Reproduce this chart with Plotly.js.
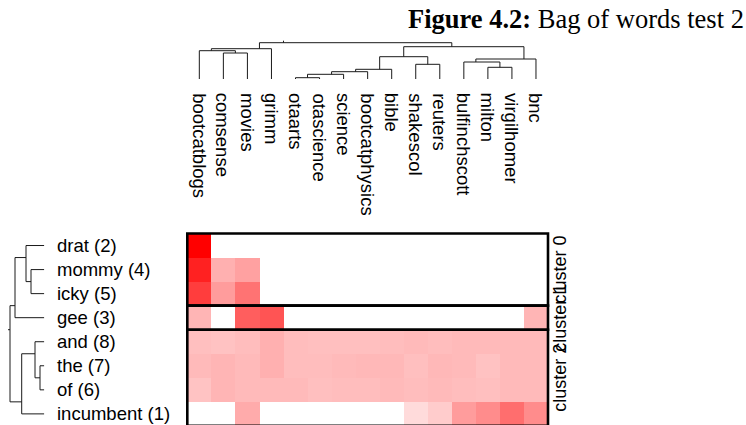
<!DOCTYPE html>
<html>
<head>
<meta charset="utf-8">
<script src="https://cdn.plot.ly/plotly-3.0.1.min.js"></script>
<style>html,body{margin:0;padding:0;background:#fff;}#chart{width:746px;height:425px;}</style>
</head>
<body>
<div id="chart"></div>
<script>
// ---- data ----
var colLabels = ["bootcatblogs","comsense","movies","grimm","otaarts","otascience","science",
  "bootcatphysics","bible","shakescol","reuters","bulfinchscott","milton","virgilhomer","bnc"];
var rowLabels = ["drat (2)","mommy (4)","icky (5)","gee (3)","and (8)","the (7)","of (6)","incumbent (1)"];
var clusterOfRow = [0,0,0,1,2,2,2,2];
var clusterNames = ["cluster 0","cluster 1","cluster 2"];

var drat      = [1.00,0,0,0,0,0,0,0,0,0,0,0,0,0,0];
var mommy     = [0.87,0.31,0.37,0,0,0,0,0,0,0,0,0,0,0,0];
var icky      = [0.76,0.39,0.55,0,0,0,0,0,0,0,0,0,0,0,0];
var gee       = [0.29,0,0.63,0.67,0,0,0,0,0,0,0,0,0,0,0.29];
var and_      = [0.25,0.24,0.26,0.31,0.26,0.25,0.25,0.25,0.26,0.27,0.26,0.27,0.27,0.27,0.27];
var the_      = [0.27,0.29,0.27,0.31,0.26,0.26,0.27,0.28,0.28,0.25,0.28,0.27,0.24,0.27,0.27];
var of_       = [0.235,0.29,0.27,0.27,0.27,0.25,0.26,0.26,0.27,0.26,0.27,0.26,0.25,0.27,0.27];
var incumbent = [0,0,0.33,0,0,0,0,0,0,0.14,0.20,0.39,0.45,0.57,0.45];

// dendrograms (R hclust style: negative = leaf -(i+1), positive = merge step)
var colMerge = [[-5,-6],[1,-7],[2,-8],[3,-9],[-13,-14],[-10,-11],[-12,5],[7,-15],[4,6],[-2,-3],[-1,10],[11,-4],[9,8],[12,13]];
var colHeight = [1.3,4.7,7.3,9.7,11.7,14.7,17,20,22.3,26,28.3,30.3,32.3,36.3];
var rowMerge = [[-2,-3],[-1,1],[2,-4],[-6,-7],[-5,4],[5,-8],[3,6]];
var rowHeight = [13.3,18.3,29.3,4.3,9.3,22.6,34.3];

// ---- helpers ----
function dendroSegments(merge, height, stub) {
  var nodes = [];
  function info(ref) {
    if (ref < 0) { var i = -ref - 1; return {pos: i, h: 0, min: i, max: i}; }
    return nodes[ref - 1];
  }
  var a = [], b = [];
  for (var k = 0; k < merge.length; k++) {
    var L = info(merge[k][0]), R = info(merge[k][1]);
    var h = height[k];
    var pos = (L.max + R.min) / 2;
    a.push(L.pos, L.pos, R.pos, R.pos, null);
    b.push(L.h, h, h, R.h, null);
    nodes.push({pos: pos, h: h, min: Math.min(L.min, R.min), max: Math.max(L.max, R.max)});
  }
  var root = nodes[nodes.length - 1];
  a.push(root.pos, root.pos, null);
  b.push(root.h, root.h + stub, null);
  return {a: a, b: b};
}

var W = 746, H = 425;
var z = [drat, mommy, icky, gee, and_, the_, of_, incumbent];
var xs = colLabels.map(function(_, i){ return i; });
var ys = rowLabels.map(function(_, i){ return i; });

var colD = dendroSegments(colMerge, colHeight, 2);
var rowD = dendroSegments(rowMerge, rowHeight, 2);

var lineStyle = {color: '#1a1a1a', width: 1};
var traces = [
  {type: 'heatmap', z: z, x: xs, y: ys, xaxis: 'x', yaxis: 'y',
   colorscale: [[0, '#ffffff'], [1, '#ff0000']], zmin: 0, zmax: 1,
   showscale: false, hoverinfo: 'skip'},
  {type: 'scatter', mode: 'lines', x: colD.a, y: colD.b, xaxis: 'x2', yaxis: 'y2',
   line: lineStyle, hoverinfo: 'skip', connectgaps: false},
  {type: 'scatter', mode: 'lines', x: rowD.b, y: rowD.a, xaxis: 'x3', yaxis: 'y',
   line: lineStyle, hoverinfo: 'skip', connectgaps: false}
];

var xRange = [-0.5 - 2.3/24.05, 14.5 + 2.3/24.05];
var xDomain = [185/W, 550.3/W];
var yRange = [7.5 - 0.9/24.05, -0.5 - 2.5/24.05];
var yDomain = [0, (H - 231)/H];

function ax(extra) {
  var o = {showgrid: false, zeroline: false, showticklabels: false, ticks: '',
           showline: false, fixedrange: true};
  for (var k in extra) o[k] = extra[k];
  return o;
}

var shapes = [];
var annotations = [];
clusterNames.forEach(function(name, c) {
  var rows = ys.filter(function(i){ return clusterOfRow[i] === c; });
  var r0 = Math.min.apply(null, rows), r1 = Math.max.apply(null, rows);
  shapes.push({type: 'rect', xref: 'x', yref: 'y', x0: -0.5, x1: colLabels.length - 0.5,
               y0: r0 - 0.5, y1: r1 + 0.5, line: {color: '#000', width: 2.6}, fillcolor: 'rgba(0,0,0,0)'});
  annotations.push({xref: 'paper', yref: 'y', x: 548/W, y: (r0 + r1)/2, xanchor: 'left', yanchor: 'middle',
                    text: name, textangle: -90, showarrow: false,
                    font: {family: 'Liberation Sans, Arial, sans-serif', size: 18, color: '#000'}});
});

colLabels.forEach(function(lab, i) {
  annotations.push({xref: 'x', yref: 'paper', x: i, y: 1 - 91/H, xanchor: 'center', yanchor: 'top',
                    text: lab, textangle: 90, showarrow: false,
                    font: {family: 'Liberation Sans, Arial, sans-serif', size: 18.5, color: '#000'}});
});
rowLabels.forEach(function(lab, i) {
  annotations.push({xref: 'paper', yref: 'y', x: 55/W, y: i, xanchor: 'left', yanchor: 'middle',
                    text: lab, showarrow: false,
                    font: {family: 'Liberation Sans, Arial, sans-serif', size: 18.5, color: '#000'}});
});
annotations.push({xref: 'paper', yref: 'paper', x: 746/W, y: 1 - 19/H, xanchor: 'right', yanchor: 'middle',
                  text: '<b>Figure 4.2:</b> Bag of words test 2', showarrow: false,
                  font: {family: 'Liberation Serif, Times New Roman, serif', size: 26.5, color: '#000'}});

var layout = {
  width: W, height: H,
  margin: {l: 0, r: 0, t: 0, b: 0},
  paper_bgcolor: '#fff', plot_bgcolor: 'rgba(0,0,0,0)',
  showlegend: false,
  xaxis: ax({domain: xDomain, range: xRange, anchor: 'y'}),
  yaxis: ax({domain: yDomain, range: yRange, anchor: 'x'}),
  xaxis2: ax({domain: xDomain, range: xRange, anchor: 'y2'}),
  yaxis2: ax({domain: [1 - 79/H, 1 - 30/H], range: [0, 49], anchor: 'x2'}),
  xaxis3: ax({domain: [0, 44.3/W], range: [44.3, 0], anchor: 'y'}),
  shapes: shapes,
  annotations: annotations
};

Plotly.newPlot('chart', traces, layout, {staticPlot: true, displayModeBar: false});
</script>
</body>
</html>
